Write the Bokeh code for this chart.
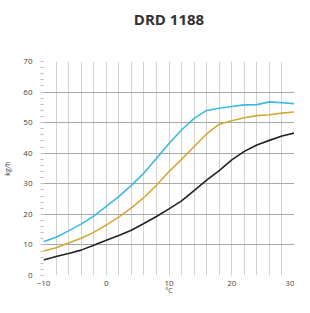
from bokeh.plotting import figure
from bokeh.models import Range1d, SingleIntervalTicker, Title
from bokeh.embed import file_html
from bokeh.resources import INLINE

temps = [-10, -8, -6, -4, -2, 0, 2, 4, 6, 8, 10, 12, 14, 16, 18, 20, 22, 24, 26, 28, 30]
blue = [11, 12.5, 14.6, 16.8, 19.4, 22.6, 25.8, 29.5, 33.5, 38.3, 43.2, 47.6, 51.4, 54.0, 54.7, 55.3, 55.8, 55.9, 56.8, 56.5, 56.2]
gold = [8, 9.1, 10.6, 12.2, 14.1, 16.5, 19.1, 22.1, 25.5, 29.5, 34.0, 38.0, 42.2, 46.3, 49.5, 50.6, 51.6, 52.3, 52.6, 53.1, 53.5]
black = [5.1, 6.2, 7.2, 8.3, 9.9, 11.5, 13.1, 14.8, 17.0, 19.3, 21.8, 24.4, 27.8, 31.2, 34.3, 37.8, 40.6, 42.7, 44.2, 45.6, 46.6]
title_text = "DRD 1188"
x_label = "°C"
y_label = "kg/h"

p = figure(width=294, height=297, output_backend="svg", toolbar_location=None,
           x_range=Range1d(-10, 30), y_range=Range1d(0, 70),
           title=None,
           min_border_left=36, min_border_right=0, min_border_top=0, min_border_bottom=0)
p.outline_line_color = None
p.background_fill_color = "white"

spacer = Title(text=" ", text_font_size="8px", standoff=16)
main_title = Title(text=title_text, align="center", offset=-24, standoff=12,
                   text_font="Open Sans", text_font_style="bold",
                   text_font_size="15px", text_color="#333333")
p.add_layout(spacer, "above")
p.add_layout(main_title, "above")

p.xaxis.ticker = SingleIntervalTicker(interval=10, num_minor_ticks=5)
p.yaxis.ticker = SingleIntervalTicker(interval=10, num_minor_ticks=5)
p.xgrid.ticker = SingleIntervalTicker(interval=10, num_minor_ticks=5)

for ax in (p.xaxis, p.yaxis):
    ax.axis_line_color = None
    ax.major_tick_line_color = "#bbbbbb"
    ax.major_tick_out = 0
    ax.major_tick_in = 0
    ax.minor_tick_in = 0
    ax.major_label_text_font = "Open Sans"
    ax.major_label_text_font_size = "8px"
    ax.major_label_text_color = "#444444"
    ax.axis_label_text_font = "Open Sans"
    ax.axis_label_text_font_size = "7px"
    ax.axis_label_text_font_style = "normal"
    ax.axis_label_text_color = "#444444"

p.xaxis.minor_tick_out = 0
p.yaxis.minor_tick_out = 3
p.yaxis.minor_tick_line_color = "#bbbbbb"
p.xaxis.axis_label = x_label
p.yaxis.axis_label = y_label
p.xaxis.major_label_standoff = 5
p.yaxis.major_label_standoff = 8
p.xaxis.axis_label_standoff = -3
p.yaxis.axis_label_standoff = 8

p.xgrid.grid_line_color = "#d2d2d2"
p.xgrid.minor_grid_line_color = "#d2d2d2"
p.ygrid.grid_line_color = "#a8a8a8"
p.xgrid.grid_line_width = 1
p.ygrid.grid_line_width = 1

p.line(temps, black, line_color="#222222", line_width=1.6)
p.line(temps, gold, line_color="#D4A937", line_width=1.6)
p.line(temps, blue, line_color="#3DB8E2", line_width=1.6)

open("out.html", "w").write(file_html(p, INLINE))
